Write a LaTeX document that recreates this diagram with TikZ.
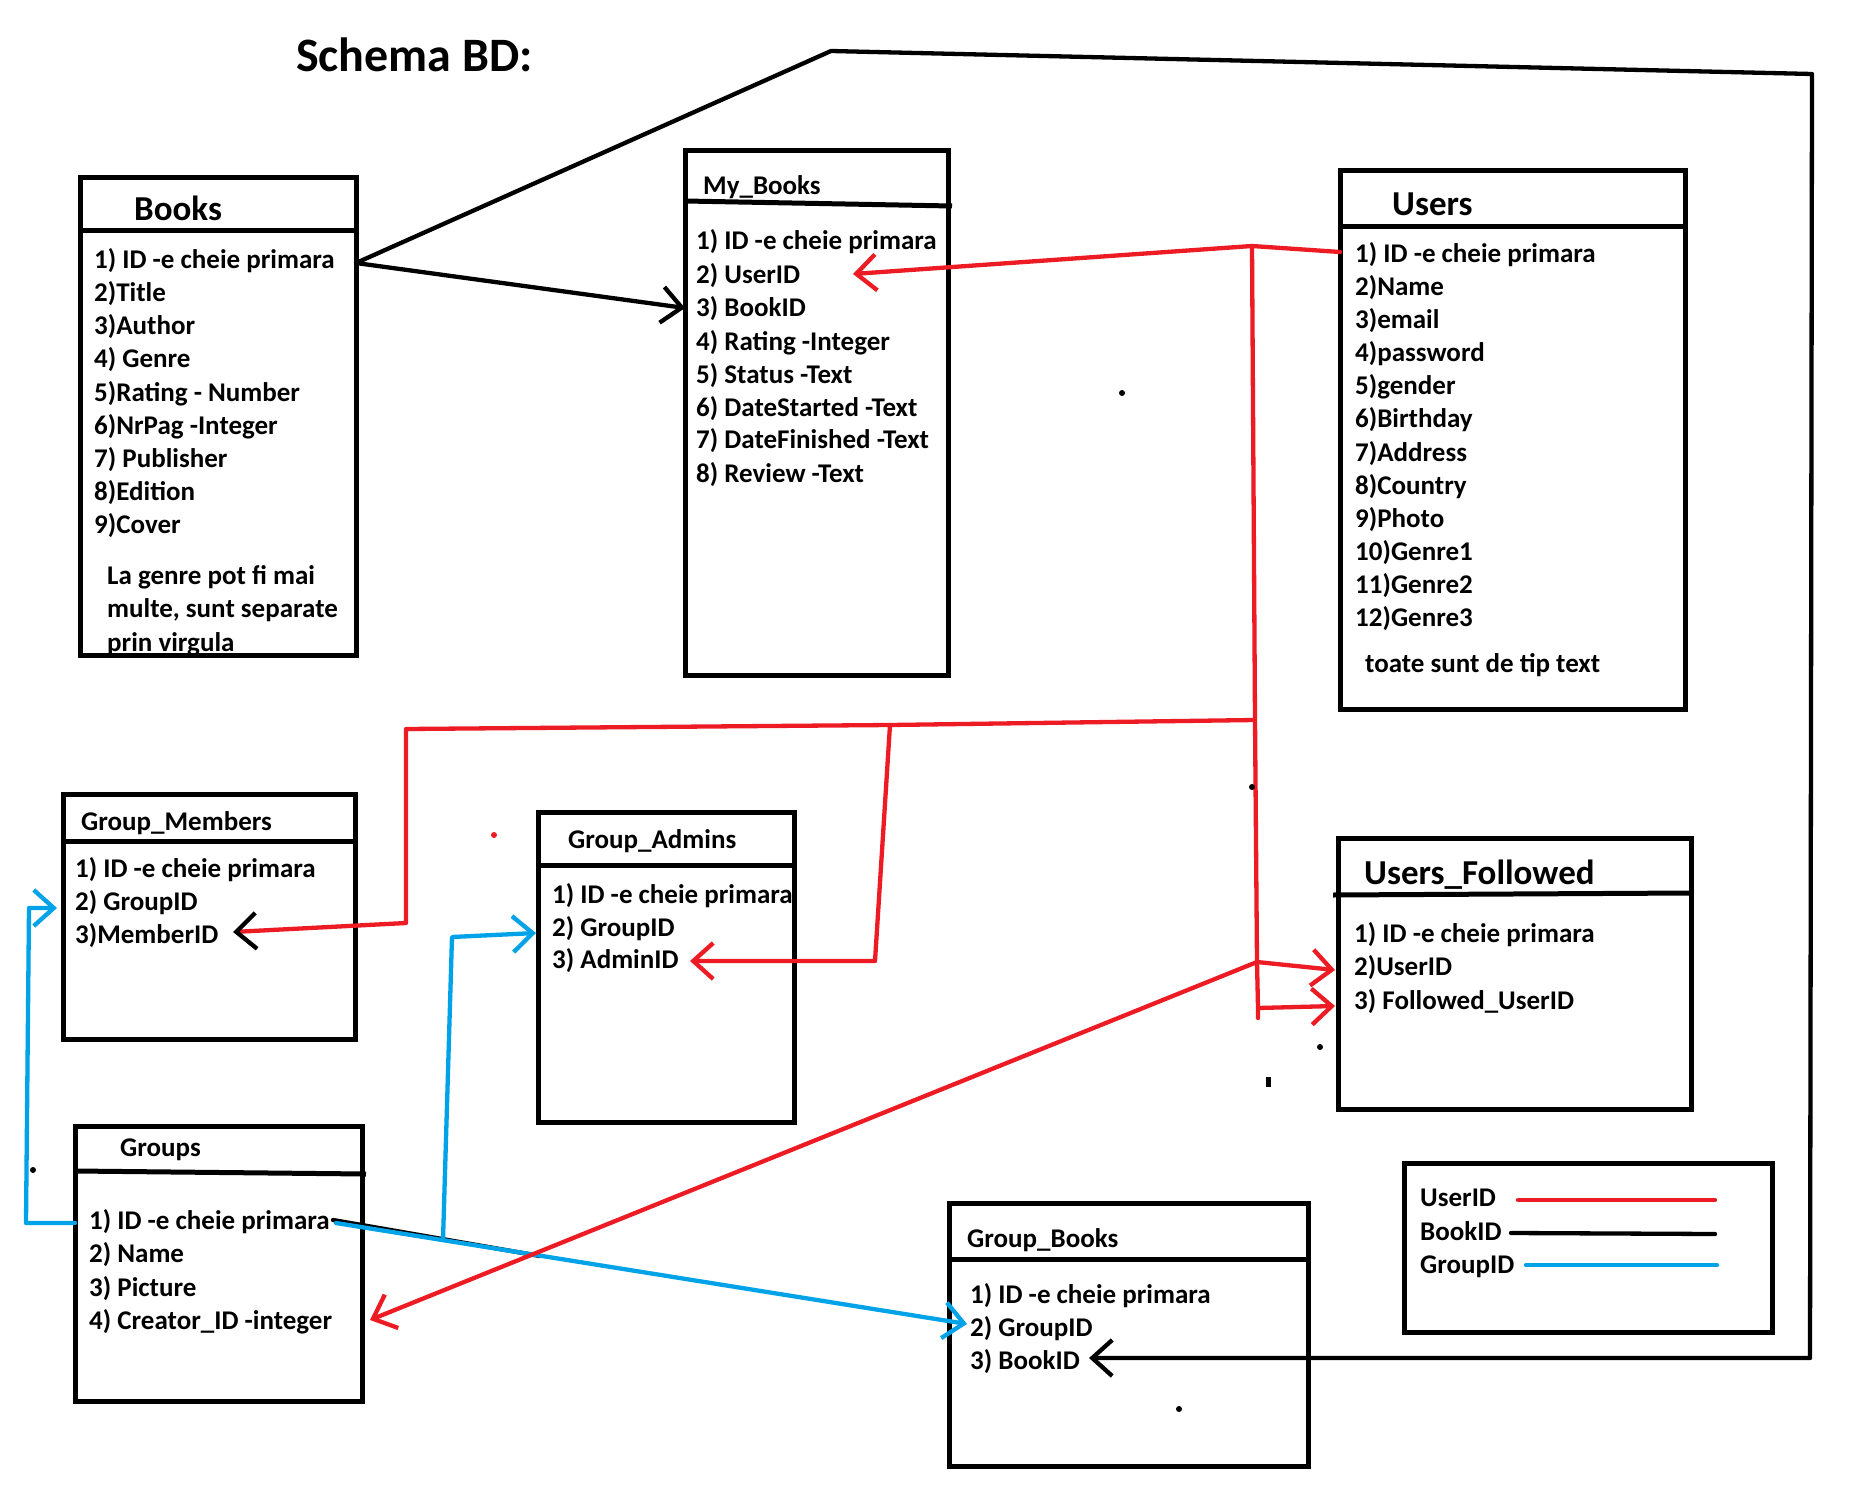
\documentclass[tikz,border=0pt]{standalone}
\usepackage{fontspec}
\setmainfont{Carlito}
\usetikzlibrary{arrows.meta}
\definecolor{pred}{HTML}{ED1C24}
\definecolor{pblue}{HTML}{00A2E8}
\tikzset{
  tbl/.style={draw, line width=5pt, inner sep=0pt, outer sep=0pt, anchor=north west},
  hline/.style={line width=5pt},
  item/.style={font=\bfseries\fontsize{27}{31}\selectfont, inner sep=0pt, anchor=base west},
  ttl/.style={font=\bfseries\fontsize{35}{40}\selectfont, inner sep=0pt, anchor=base west},
  conn/.style={line width=4.3pt, line cap=round, line join=round},
  tip/.style={-{Straight Barb[length=20pt,width=36pt]}},
  blacktip/.style={-{Straight Barb[length=20pt,width=36pt,color=black]}},
  dot/.style={fill=black, circle, inner sep=0pt, minimum size=6pt}
}
\begin{document}
\begin{tikzpicture}[x=1pt,y=-1pt]
\useasboundingbox[fill=white] (0,0) rectangle (1866,1498);

% title
\node[font=\bfseries\fontsize{48}{56}\selectfont, inner sep=0pt, anchor=base west] (title) at (296,72) {Schema BD:};

% ---------- Books ----------
\node[ttl] (bkt) at (134,221) {Books};
\node[item] (bk1) at (94,268) {1) ID -e cheie primara};
\node[item] (bk2) at (94,301) {2)Title};
\node[item] (bk3) at (94,334) {3)Author};
\node[item] (bk4) at (94,367) {4) Genre};
\node[item] (bk5) at (94,401) {5)Rating - Number};
\node[item] (bk6) at (94,434) {6)NrPag -Integer};
\node[item] (bk7) at (94,467) {7) Publisher};
\node[item] (bk8) at (94,500) {8)Edition};
\node[item] (bk9) at (94,533) {9)Cover};
\begin{scope}
\clip (80,550) rectangle (356,655);
\node[item] (bkn1) at (107,584) {La genre pot fi mai};
\node[item] (bkn2) at (107,617) {multe, sunt separate};
\node[item] (bkn3) at (107,651) {prin virgula};
\end{scope}
\node[tbl, minimum width=276pt, minimum height=477pt] (books) at (80,178) {};
\draw[hline] (books.west |- 0,231) -- (books.east |- 0,231);

% ---------- My_Books ----------
\node[item] (mbt) at (703,195) {My\_Books};
\node[item] (mb1) at (696,250) {1) ID -e cheie primara};
\node[item] (mb2) at (696,283) {2) UserID};
\node[item] (mb3) at (696,316) {3) BookID};
\node[item] (mb4) at (696,350) {4) Rating -Integer};
\node[item] (mb5) at (696,383) {5) Status -Text};
\node[item] (mb6) at (696,416) {6) DateStarted -Text};
\node[item] (mb7) at (696,448) {7) DateFinished -Text};
\node[item] (mb8) at (696,482) {8) Review -Text};
\node[tbl, minimum width=263pt, minimum height=524pt] (mybooks) at (685,151) {};
\draw[hline] (mybooks.west |- 0,201) -- (952,206);

% ---------- Users ----------
\node[ttl] (ust) at (1392,215) {Users};
\node[item] (us1) at (1355,262) {1) ID -e cheie primara};
\node[item] (us2) at (1355,295) {2)Name};
\node[item] (us3) at (1355,328) {3)email};
\node[item] (us4) at (1355,361) {4)password};
\node[item] (us5) at (1355,394) {5)gender};
\node[item] (us6) at (1355,427) {6)Birthday};
\node[item] (us7) at (1355,461) {7)Address};
\node[item] (us8) at (1355,494) {8)Country};
\node[item] (us9) at (1355,527) {9)Photo};
\node[item] (us10) at (1355,560) {10)Genre1};
\node[item] (us11) at (1355,593) {11)Genre2};
\node[item] (us12) at (1355,626) {12)Genre3};
\node[item] (usn) at (1365,672) {toate sunt de tip text};
\node[tbl, minimum width=345pt, minimum height=538pt] (users) at (1340,171) {};
\draw[hline] (users.west |- 0,227) -- (users.east |- 0,227);

% ---------- Group_Members ----------
\node[item] (gmt) at (81,830) {Group\_Members};
\node[item] (gm1) at (75,877) {1) ID -e cheie primara};
\node[item] (gm2) at (75,910) {2) GroupID};
\node[item] (gm3) at (75,943) {3)MemberID};
\node[tbl, minimum width=292pt, minimum height=245pt] (gmembers) at (63,794) {};
\draw[hline] (gmembers.west |- 0,841) -- (gmembers.east |- 0,841);

% ---------- Group_Admins ----------
\node[item] (gat) at (568,848) {Group\_Admins};
\node[item] (ga1) at (552,903) {1) ID -e cheie primara};
\node[item] (ga2) at (552,936) {2) GroupID};
\node[item] (ga3) at (552,968) {3) AdminID};
\node[tbl, minimum width=256pt, minimum height=310pt] (gadmins) at (538,812) {};
\draw[hline] (gadmins.west |- 0,865) -- (797,865);

% ---------- Users_Followed ----------
\node[ttl] (uft) at (1364,884) {Users\_Followed};
\node[item] (uf1) at (1354,942) {1) ID -e cheie primara};
\node[item] (uf2) at (1354,975) {2)UserID};
\node[item] (uf3) at (1354,1009) {3) Followed\_UserID};
\node[tbl, minimum width=353pt, minimum height=271pt] (ufollowed) at (1338,838) {};
\draw[hline] (1333,895) -- (ufollowed.east |- 0,893);

% ---------- Groups ----------
\node[item] (grt) at (120,1156) {Groups};
\node[item] (gr1) at (89,1229) {1) ID -e cheie primara};
\node[item] (gr2) at (89,1262) {2) Name};
\node[item] (gr3) at (89,1296) {3) Picture};
\node[item] (gr4) at (89,1329) {4) Creator\_ID -integer};
\node[tbl, minimum width=287pt, minimum height=275pt] (groups) at (75,1126) {};
\draw[hline] (groups.west |- 0,1171) -- (366,1174);

% ---------- Group_Books ----------
\node[item] (gbt) at (967,1247) {Group\_Books};
\node[item] (gb1) at (970,1303) {1) ID -e cheie primara};
\node[item] (gb2) at (970,1336) {2) GroupID};
\node[item] (gb3) at (970,1369) {3) BookID};
\node[tbl, minimum width=359pt, minimum height=263pt] (gbooks) at (949,1203) {};
\draw[hline] (gbooks.west |- 0,1259) -- (gbooks.east |- 0,1259);

% ---------- Legend ----------
\node[item] (lg1) at (1420,1206) {UserID};
\node[item] (lg2) at (1420,1240) {BookID};
\node[item] (lg3) at (1420,1273) {GroupID};
\node[tbl, minimum width=368pt, minimum height=169pt] (legend) at (1404,1163) {};
\coordinate (lr1) at (1518,1200); \coordinate (lr2) at (1715,1200);
\coordinate (lk1) at (1511,1233); \coordinate (lk2) at (1715,1234);
\coordinate (lb1) at (1526,1265); \coordinate (lb2) at (1717,1265);
\draw[conn, pred] (lr1) -- (lr2);
\draw[conn, black] (lk1) -- (lk2);
\draw[conn, pblue] (lb1) -- (lb2);

% ---------- connector points ----------
\coordinate (bkid) at (356,263);
\coordinate (topL) at (831,51);
\coordinate (topR) at (1812,74);
\coordinate (botR) at (1810,1358);
\coordinate (gbbook) at (1089,1358);
\coordinate (mbbook) at (685,308);
\coordinate (usid) at (1340,252);
\coordinate (rj) at (1252,246);
\coordinate (mbuser) at (853,274);
\coordinate (rh) at (1255,720);
\coordinate (rm) at (890,725);
\coordinate (rl) at (406,729);
\coordinate (rl2) at (406,923);
\coordinate (gmmem) at (233,932);
\coordinate (rm2) at (875,961);
\coordinate (gaadm) at (690,961);
\coordinate (rv2) at (1257,962);
\coordinate (ufuser) at (1335,970);
\coordinate (rv3) at (1258,1008);
\coordinate (rvend) at (1258,1018);
\coordinate (uffol) at (1335,1006);
\coordinate (grcre) at (370,1320);
\coordinate (grid) at (336,1223);
\coordinate (grid2) at (333,1220);
\coordinate (bkx) at (540,1256);
\coordinate (gbgrp) at (967,1324);
\coordinate (grl) at (75,1223);
\coordinate (bl1) at (26,1223);
\coordinate (bl2) at (29,908);
\coordinate (gmgrp) at (57,908);
\coordinate (bb1) at (443,1240);
\coordinate (bb2) at (452,937);
\coordinate (gagrp) at (536,933);

% ---------- black (BookID) ----------
\draw[conn, tip] (bkid) -- (mbbook);
\draw[conn, tip] (bkid) -- (topL) -- (topR) -- (botR) -- (gbbook);
\draw[conn] (grid2) -- (bkx);

% ---------- blue (GroupID) ----------
\draw[conn, pblue, tip] (grid) -- (gbgrp);
\draw[conn, pblue, tip] (grl) -- (bl1) -- (bl2) -- (gmgrp);
\draw[conn, pblue, tip] (bb1) -- (bb2) -- (gagrp);

% ---------- red (UserID) ----------
\draw[conn, pred, tip] (usid) -- (rj) -- (mbuser);
\draw[conn, pred] (rj) -- (rh) -- (rv2) -- (rv3) -- (rvend);
\draw[conn, pred, blacktip] (rh) -- (rm) -- (rl) -- (rl2) -- (gmmem);
\draw[conn, pred, tip] (rm) -- (rm2) -- (gaadm);
\draw[conn, pred, tip] (rv2) -- (ufuser);
\draw[conn, pred, tip] (rv3) -- (uffol);
\draw[conn, pred, tip] (rv2) -- (grcre);

% ---------- stray marks ----------
\node[dot] (d1) at (1122,393) {};
\node[dot] (d2) at (1252,787) {};
\node[dot] (d3) at (1320,1047) {};
\node[dot] (d4) at (1179,1409) {};
\node[dot] (d5) at (33,1170) {};
\node[dot, fill=pred] (d6) at (494,835) {};
\node[fill=black, inner sep=0pt, minimum width=5pt, minimum height=10pt] (d7) at (1268,1082) {};
\end{tikzpicture}
\end{document}
